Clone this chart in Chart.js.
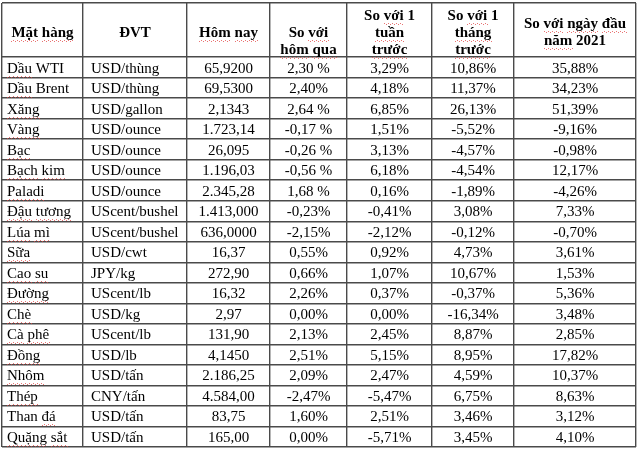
<!DOCTYPE html>
<html><head><meta charset="utf-8">
<script src="https://cdn.jsdelivr.net/npm/chart.js@4/dist/chart.umd.min.js"></script>
<style>html,body{margin:0;padding:0;background:#fff}canvas{display:block}</style>
</head><body>
<canvas id="c" width="640" height="453"></canvas>
<script>
// ---- data ----
const headers = [["Mặt hàng"],["ĐVT"],["Hôm nay"],["","So với","hôm qua"],["So với 1","tuần","trước"],["So với 1","tháng","trước"],["So với ngày đầu","năm 2021"]];
const items = ["Dầu WTI","Dầu Brent","Xăng","Vàng","Bạc","Bạch kim","Paladi","Đậu tương","Lúa mì","Sữa","Cao su","Đường","Chè","Cà phê","Đồng","Nhôm","Thép","Than đá","Quặng sắt"];
const units = ["USD/thùng","USD/thùng","USD/gallon","USD/ounce","USD/ounce","USD/ounce","USD/ounce","UScent/bushel","UScent/bushel","USD/cwt","JPY/kg","UScent/lb","USD/kg","UScent/lb","USD/lb","USD/tấn","CNY/tấn","USD/tấn","USD/tấn"];
const today = ["65,9200","69,5300","2,1343","1.723,14","26,095","1.196,03","2.345,28","1.413,000","636,0000","16,37","272,90","16,32","2,97","131,90","4,1450","2.186,25","4.584,00","83,75","165,00"];
const vsDay = ["2,30 %","2,40%","2,64 %","-0,17 %","-0,26 %","-0,56 %","1,68 %","-0,23%","-2,15%","0,55%","0,66%","2,26%","0,00%","2,13%","2,51%","2,09%","-2,47%","1,60%","0,00%"];
const vsWeek = ["3,29%","4,18%","6,85%","1,51%","3,13%","6,18%","0,16%","-0,41%","-2,12%","0,92%","1,07%","0,37%","0,00%","2,45%","5,15%","2,47%","-5,47%","2,51%","-5,71%"];
const vsMonth = ["10,86%","11,37%","26,13%","-5,52%","-4,57%","-4,54%","-1,89%","3,08%","-0,12%","4,73%","10,67%","-0,37%","-16,34%","8,87%","8,95%","4,59%","6,75%","3,46%","3,45%"];
const vsYear = ["35,88%","34,23%","51,39%","-9,16%","-0,98%","12,17%","-4,26%","7,33%","-0,70%","3,61%","1,53%","5,36%","3,48%","2,85%","17,82%","10,37%","8,63%","3,12%","4,10%"];

// ---- layout (not data) ----
const columns = [items, units, today, vsDay, vsWeek, vsMonth, vsYear];
const colEdges = [0, 81, 185, 268, 345, 430, 512, 634];
const colAlign = ['left','left','center','center','center','center','center'];
const colPad = [5, 8, 0, 0, 0, 0, 0];
const headerRows = 2.63;
const rowEdges = [0, headerRows].concat(items.map((_, i) => headerRows + i + 1));
const flagged = new Set(["Mặt","hàng","Hôm","nay","với","hôm","qua","tuần","trước","tháng","ngày","đầu","năm","thùng","tấn",
  "Dầu","Xăng","Vàng","Bạc","Bạch","kim","Paladi","Đậu","tương","Lúa","mì","Sữa","Cao","su","Đường","Chè","Cà","phê","Đồng","Nhôm","Thép","đá","Quặng","sắt"]);

function squiggle(ctx, text, x, base) {
  const words = text.split(' ');
  let cx = x;
  const sp = ctx.measureText(' ').width;
  ctx.save();
  ctx.fillStyle = 'rgba(225,70,70,0.75)';
  for (const w of words) {
    const ww = ctx.measureText(w).width;
    if (flagged.has(w)) {
      for (let px = Math.round(cx); px < cx + ww; px += 2) {
        ctx.fillRect(px, Math.round(base + 3) + ((px >> 1) % 2), 1, 1);
      }
    }
    cx += ww + sp;
  }
  ctx.restore();
}

const tablePlugin = {
  id: 'tableText',
  afterDraw(chart) {
    const ctx = chart.ctx, xs = chart.scales.x, ys = chart.scales.y;
    ctx.save();
    ctx.fillStyle = '#000';
    ctx.textBaseline = 'alphabetic';
    // header
    ctx.font = 'bold 15px "Liberation Serif"';
    headers.forEach((lines, c) => {
      const cx = (xs.getPixelForValue(colEdges[c]) + xs.getPixelForValue(colEdges[c + 1])) / 2;
      const n = lines.length, mid = headerRows / 2 + 0.33;
      lines.forEach((t, k) => {
        if (!t) return;
        const base = ys.getPixelForValue(mid + (k - (n - 1) / 2) * 0.82);
        const w = ctx.measureText(t).width;
        ctx.textAlign = 'left';
        ctx.fillText(t, cx - w / 2, base);
        squiggle(ctx, t, cx - w / 2, base);
      });
    });
    // body
    ctx.font = '15px "Liberation Serif"';
    columns.forEach((col, c) => {
      const l = xs.getPixelForValue(colEdges[c]), r = xs.getPixelForValue(colEdges[c + 1]);
      col.forEach((t, i) => {
        const base = ys.getPixelForValue(headerRows + i + 1) - 5;
        const w = ctx.measureText(t).width;
        const x = colAlign[c] === 'left' ? l + colPad[c] : (l + r) / 2 - w / 2;
        ctx.textAlign = 'left';
        ctx.fillText(t, x, base);
        squiggle(ctx, t, x, base);
      });
    });
    ctx.restore();
  }
};

new Chart(document.getElementById('c'), {
  type: 'scatter',
  data: { datasets: [{ data: [] }] },
  options: {
    responsive: false, animation: false, events: [],
    layout: { padding: { left: 2, top: 3, right: 4, bottom: 6 } },
    plugins: { legend: { display: false }, tooltip: { enabled: false } },
    scales: {
      x: {
        type: 'linear', min: 0, max: colEdges[colEdges.length - 1],
        afterBuildTicks: s => { s.ticks = colEdges.map(v => ({ value: v })); },
        afterFit: s => { s.height = 0; },
        ticks: { display: false },
        grid: { color: '#4a4a4a', lineWidth: 1.4, drawTicks: false },
        border: { display: false }
      },
      y: {
        type: 'linear', reverse: true, min: 0, max: rowEdges[rowEdges.length - 1],
        afterBuildTicks: s => { s.ticks = rowEdges.map(v => ({ value: v })); },
        afterFit: s => { s.width = 0; },
        ticks: { display: false },
        grid: { color: '#4a4a4a', lineWidth: 1.4, drawTicks: false },
        border: { display: false }
      }
    }
  },
  plugins: [tablePlugin]
});
</script>
</body></html>
